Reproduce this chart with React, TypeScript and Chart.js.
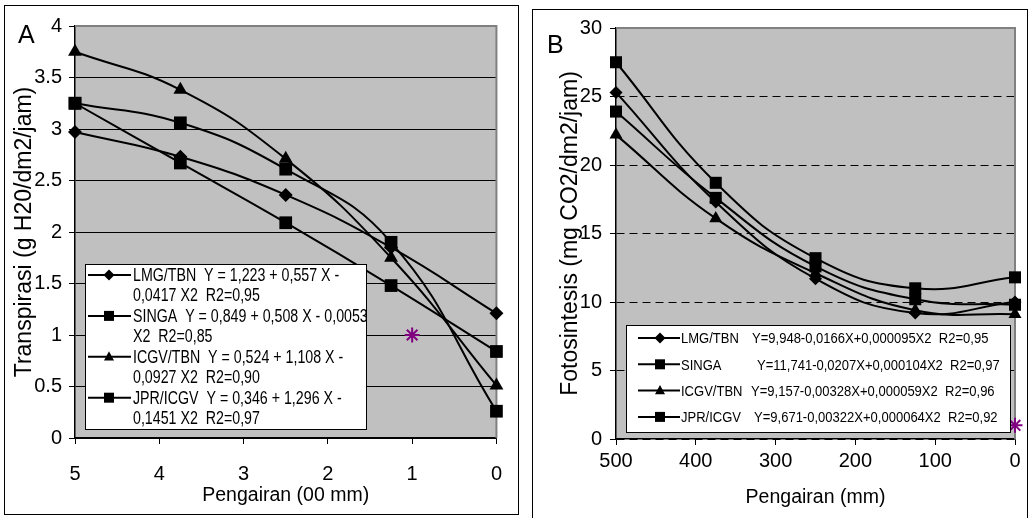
import React, { useEffect, useRef } from 'react';
import { Chart, registerables } from 'chart.js';
Chart.register(...registerables);

const FONT = "'Liberation Sans', Arial, Helvetica, sans-serif";

// ---- Panel A data (Pengairan in 00 mm) ----
const xA = [5, 3.75, 2.5, 1.25, 0];
const lmgA = [2.97, 2.73, 2.36, 1.85, 1.21];
const singaA = [3.25, 2.67, 2.09, 1.48, 0.84];
const icgvA = [3.75, 3.38, 2.71, 1.75, 0.51];
const jprA = [3.25, 3.06, 2.61, 1.9, 0.26];
const starA = [{ x: 1, y: 1 }];

// ---- Panel B data (Pengairan in mm) ----
const xB = [500, 375, 250, 125, 0];
const lmgB = [25.3, 17.3, 11.7, 9.2, 10.0];
const singaB = [27.5, 18.7, 13.2, 11.0, 11.8];
const icgvB = [22.2, 16.1, 12.1, 9.4, 9.1];
const jprB = [23.9, 17.6, 12.6, 10.2, 9.8];
const starB = [{ x: 0, y: 1 }];

const seriesNames = ['LMG/TBN', 'SINGA', 'ICGV/TBN', 'JPR/ICGV'];
const markerStyles = ['rectRot', 'rect', 'triangle', 'rect'];

const legendTextA = [
  ['LMG/TBN  Y = 1,223 + 0,557 X -', '0,0417 X2  R2=0,95'],
  ['SINGA  Y = 0,849 + 0,508 X - 0,0053', 'X2  R2=0,85'],
  ['ICGV/TBN  Y = 0,524 + 1,108 X -', '0,0927 X2  R2=0,90'],
  ['JPR/ICGV  Y = 0,346 + 1,296 X -', '0,1451 X2  R2=0,97'],
];
const legendEqB = [
  'Y=9,948-0,0166X+0,000095X2  R2=0,95',
  'Y=11,741-0,0207X+0,000104X2  R2=0,97',
  'Y=9,157-0,00328X+0,000059X2  R2=0,96',
  'Y=9,671-0,00322X+0,000064X2  R2=0,92',
];

const PLOT_BG = '#c0c0c0';
const PLOT_EDGE = '#808080';
const STAR = '#800080';

function drawMarker(ctx: CanvasRenderingContext2D, style: string, x: number, y: number, h: number) {
  ctx.save();
  ctx.fillStyle = '#000';
  ctx.beginPath();
  if (style === 'rectRot') {
    ctx.moveTo(x, y - h);
    ctx.lineTo(x + h, y);
    ctx.lineTo(x, y + h);
    ctx.lineTo(x - h, y);
    ctx.closePath();
  } else if (style === 'rect') {
    ctx.rect(x - h, y - h, 2 * h, 2 * h);
  } else {
    ctx.moveTo(x, y - h * 1.1);
    ctx.lineTo(x + h, y + h * 0.75);
    ctx.lineTo(x - h, y + h * 0.75);
    ctx.closePath();
  }
  ctx.fill();
  ctx.restore();
}

function drawSqueezed(ctx: CanvasRenderingContext2D, text: string, x: number, y: number, size: number, sx: number) {
  ctx.save();
  ctx.font = `${size}px ${FONT}`;
  ctx.fillStyle = '#000';
  ctx.textBaseline = 'middle';
  ctx.textAlign = 'left';
  ctx.translate(x, y);
  ctx.scale(sx, 1);
  ctx.fillText(text, 0, 0);
  ctx.restore();
}

const plotFrame = {
  id: 'plotFrame',
  beforeDraw(chart: any) {
    const { ctx, chartArea: a } = chart;
    ctx.save();
    ctx.fillStyle = PLOT_BG;
    ctx.fillRect(a.left, a.top, a.right - a.left, a.bottom - a.top);
    ctx.restore();
  },
  beforeDatasetsDraw(chart: any) {
    const { ctx, chartArea: a } = chart;
    ctx.save();
    ctx.strokeStyle = PLOT_EDGE;
    ctx.lineWidth = 2;
    ctx.beginPath();
    ctx.moveTo(a.left, a.top);
    ctx.lineTo(a.right, a.top);
    ctx.lineTo(a.right, a.bottom);
    ctx.stroke();
    ctx.restore();
  },
};

const legendPluginA = {
  id: 'legendA',
  afterDatasetsDraw(chart: any) {
    const ctx = chart.ctx;
    ctx.save();
    ctx.fillStyle = '#fff';
    ctx.fillRect(85, 264, 281, 165);
    ctx.strokeStyle = '#000';
    ctx.lineWidth = 1;
    ctx.strokeRect(85.5, 264.5, 281, 165);
    legendTextA.forEach((lines, i) => {
      const y0 = 275 + i * 40.9;
      ctx.strokeStyle = '#000';
      ctx.lineWidth = 2;
      ctx.beginPath();
      ctx.moveTo(88, y0);
      ctx.lineTo(131, y0);
      ctx.stroke();
      drawMarker(ctx, markerStyles[i], 109, y0, markerStyles[i] === 'rectRot' ? 5.5 : 5);
      drawSqueezed(ctx, lines[0], 133, y0 + 1, 18, 0.79);
      drawSqueezed(ctx, lines[1], 133, y0 + 21.4, 18, 0.79);
    });
    ctx.restore();
  },
  afterDraw(chart: any) {
    const ctx = chart.ctx;
    ctx.save();
    ctx.font = `25px ${FONT}`;
    ctx.fillStyle = '#000';
    ctx.textBaseline = 'alphabetic';
    ctx.fillText('A', 18, 43);
    ctx.restore();
  },
};

const legendEqXB = [232, 237, 231, 234];
const legendPluginB = {
  id: 'legendB',
  afterDatasetsDraw(chart: any) {
    const ctx = chart.ctx;
    ctx.save();
    ctx.fillStyle = '#fff';
    ctx.fillRect(106, 325, 384, 107);
    ctx.strokeStyle = '#000';
    ctx.lineWidth = 1;
    ctx.strokeRect(106.5, 325.5, 384, 107);
    seriesNames.forEach((name, i) => {
      const y0 = 338 + i * 26.3;
      ctx.strokeStyle = '#000';
      ctx.lineWidth = 2;
      ctx.beginPath();
      ctx.moveTo(118, y0);
      ctx.lineTo(160, y0);
      ctx.stroke();
      drawMarker(ctx, markerStyles[i], 140, y0, markerStyles[i] === 'rectRot' ? 5.5 : 5);
      drawSqueezed(ctx, name, 161, y0 + 1, 15.5, 0.84);
      drawSqueezed(ctx, legendEqB[i], legendEqXB[i], y0 + 1, 15.5, 0.84);
    });
    ctx.restore();
  },
  afterDraw(chart: any) {
    const ctx = chart.ctx;
    ctx.save();
    ctx.font = `25px ${FONT}`;
    ctx.fillStyle = '#000';
    ctx.textBaseline = 'alphabetic';
    ctx.fillText('B', 27, 53);
    ctx.restore();
  },
};

function lineSet(label: string, xs: number[], ys: number[], style: string, r: number) {
  return {
    label,
    data: xs.map((x, i) => ({ x, y: ys[i] })),
    borderColor: '#000',
    backgroundColor: '#000',
    borderWidth: 2,
    tension: 0.45,
    pointStyle: style,
    pointRadius: r,
    pointBackgroundColor: '#000',
    pointBorderColor: '#000',
    pointBorderWidth: 0,
    clip: false,
  };
}

function starSet(data: any[]) {
  return {
    label: 'star',
    data,
    showLine: false,
    pointStyle: 'star',
    pointRadius: 7.5,
    pointBorderColor: STAR,
    pointBackgroundColor: STAR,
    pointBorderWidth: 2,
    borderColor: STAR,
    clip: false,
  };
}

function makeChart(canvas: HTMLCanvasElement, panel: 'A' | 'B') {
  const isA = panel === 'A';
  const datasets = isA
    ? [
        lineSet(seriesNames[0], xA, lmgA, markerStyles[0], 7),
        lineSet(seriesNames[1], xA, singaA, markerStyles[1], 9),
        lineSet(seriesNames[2], xA, icgvA, markerStyles[2], 8),
        lineSet(seriesNames[3], xA, jprA, markerStyles[3], 9),
        starSet(starA),
      ]
    : [
        lineSet(seriesNames[0], xB, lmgB, markerStyles[0], 6.5),
        lineSet(seriesNames[1], xB, singaB, markerStyles[1], 8.5),
        lineSet(seriesNames[2], xB, icgvB, markerStyles[2], 7.5),
        lineSet(seriesNames[3], xB, jprB, markerStyles[3], 8.5),
        starSet(starB),
      ];
  const yMax = isA ? 4 : 30;
  return new Chart(canvas, {
    type: 'line',
    data: { datasets } as any,
    options: {
      responsive: false,
      animation: false,
      events: [],
      layout: { padding: isA ? { top: 26, right: 19, left: 0, bottom: 0 } : { top: 28, right: 14, left: 0, bottom: 0 } },
      plugins: { legend: { display: false }, tooltip: { enabled: false } },
      scales: {
        x: {
          type: 'linear',
          reverse: true,
          min: 0,
          max: isA ? 5 : 500,
          ticks: {
            stepSize: isA ? 1 : 100,
            color: '#000',
            font: { family: FONT, size: 20 },
            padding: isA ? 18 : 4,
            maxRotation: 0,
            callback: (v: any) => String(v),
          },
          grid: { drawOnChartArea: false, drawTicks: true, tickLength: 6, tickColor: '#000', color: '#000' },
          border: { color: '#000', width: 1.5 },
          title: {
            display: true,
            text: isA ? 'Pengairan (00 mm)' : 'Pengairan (mm)',
            color: '#000',
            font: { family: FONT, size: 19.5 },
            padding: { top: 0, bottom: isA ? 11 : 9 },
          },
          afterFit: (s: any) => { s.height = isA ? 80 : 79; },
        },
        y: {
          type: 'linear',
          min: 0,
          max: yMax,
          ticks: {
            stepSize: isA ? 0.5 : 5,
            color: '#000',
            font: { family: FONT, size: 20 },
            padding: isA ? 7 : 8,
            callback: (v: any) => String(v),
          },
          grid: {
            color: (c: any) => (c.tick && c.tick.value === yMax ? 'rgba(0,0,0,0)' : '#000'),
            tickColor: '#000',
            tickLength: 6,
            lineWidth: 1,
          },
          border: isA ? { color: '#000', width: 1.5 } : { color: '#000', width: 1.5, dash: [8, 5] },
          title: {
            display: true,
            text: isA ? 'Transpirasi (g H20/dm2/jam)' : 'Fotosintesis (mg CO2/dm2/jam)',
            color: '#000',
            font: { family: FONT, size: 23 },
            padding: { top: isA ? 11 : 37, bottom: 0 },
          },
          afterFit: (s: any) => { s.width = isA ? 75 : 96; },
        },
      },
    } as any,
    plugins: [plotFrame, isA ? legendPluginA : legendPluginB],
  });
}

export default function App() {
  const refA = useRef<HTMLCanvasElement>(null);
  const refB = useRef<HTMLCanvasElement>(null);
  useEffect(() => {
    Chart.defaults.font.family = FONT;
    const a = makeChart(refA.current!, 'A');
    const b = makeChart(refB.current!, 'B');
    return () => {
      a.destroy();
      b.destroy();
    };
  }, []);
  return (
    <div style={{ position: 'fixed', left: 0, top: 0, width: 1029, height: 518, background: '#fff', overflow: 'hidden' }}>
      <canvas ref={refA} width={520} height={518} style={{ position: 'absolute', left: 0, top: 0 }} />
      <canvas ref={refB} width={509} height={518} style={{ position: 'absolute', left: 520, top: 0 }} />
      <div style={{ position: 'absolute', left: 4, top: 5, width: 515, height: 510, border: '1px solid #000', boxSizing: 'border-box', pointerEvents: 'none' }} />
      <div style={{ position: 'absolute', left: 532, top: 9, width: 496, height: 520, border: '1px solid #000', boxSizing: 'border-box', pointerEvents: 'none' }} />
    </div>
  );
}
